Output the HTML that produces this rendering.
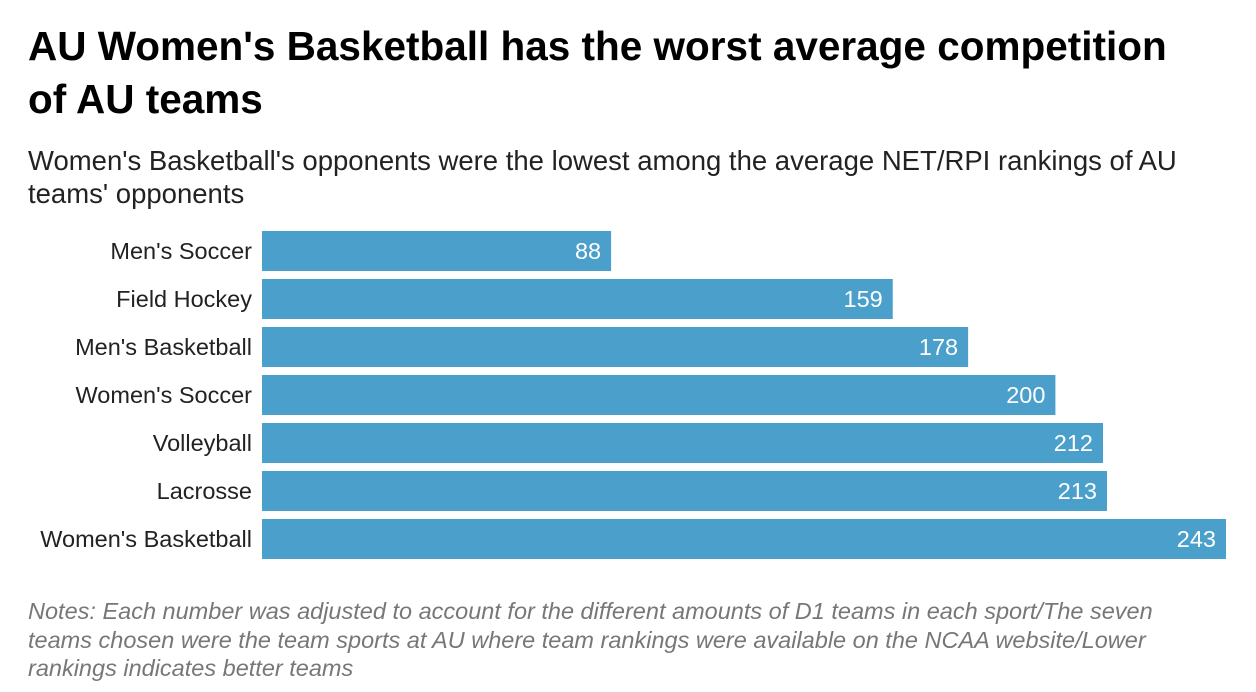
<!DOCTYPE html>
<html><head><meta charset="utf-8">
<style>
body{margin:0;width:1256px;height:692px;background:#fff;font-family:"Liberation Sans",sans-serif;overflow:hidden;position:relative}
#title{position:absolute;left:28px;top:20px;width:1152px;font-size:40.5px;font-weight:bold;line-height:53px;color:#000;letter-spacing:0px}
#sub{position:absolute;left:28px;top:144px;width:1180px;font-size:27.5px;line-height:33px;color:#222}
#notes{position:absolute;left:28px;top:597px;width:1180px;font-size:23.5px;line-height:28.5px;color:#777;font-style:italic}
</style></head><body>
<div id="title">AU Women's Basketball has the worst average competition of AU teams</div>
<div id="sub">Women's Basketball's opponents were the lowest among the average NET/RPI rankings of AU teams' opponents</div>
<svg id="chart" width="1256" height="692" style="position:absolute;left:0;top:0"></svg>
<div id="notes">Notes: Each number was adjusted to account for the different amounts of D1 teams in each sport/The seven teams chosen were the team sports at AU where team rankings were available on the NCAA website/Lower rankings indicates better teams</div>
<script>
const categories=["Men's Soccer","Field Hockey","Men's Basketball","Women's Soccer","Volleyball","Lacrosse","Women's Basketball"];
const values=[88,159,178,200,212,213,243];
const maxVal=243;
const svg=document.getElementById('chart');
const NS='http://www.w3.org/2000/svg';
const x0=262,x1=1226,yTop=231,step=48,bh=40;
const xs=v=>x0+(v/maxVal)*(x1-x0);
const ys=i=>yTop+i*step;
categories.forEach((c,i)=>{
  const r=document.createElementNS(NS,'rect');
  r.setAttribute('x',x0);r.setAttribute('y',ys(i));
  r.setAttribute('width',xs(values[i])-x0);r.setAttribute('height',bh);
  r.setAttribute('fill','#4a9fcb');
  
  
  svg.appendChild(r);
  const t=document.createElementNS(NS,'text');
  t.setAttribute('x',252);t.setAttribute('y',ys(i)+bh/2+8);
  t.setAttribute('text-anchor','end');t.setAttribute('font-size','23.5');t.setAttribute('fill','#222');
  t.setAttribute('font-family','Liberation Sans, sans-serif');
  t.textContent=c;
  
  
  svg.appendChild(t);
  const v=document.createElementNS(NS,'text');
  v.setAttribute('x',xs(values[i])-10);v.setAttribute('y',ys(i)+bh/2+8);
  v.setAttribute('text-anchor','end');v.setAttribute('font-size','23.5');v.setAttribute('fill','#fff');
  v.setAttribute('font-family','Liberation Sans, sans-serif');
  v.textContent=values[i];
  
  
  svg.appendChild(v);
});
</script>
</body></html>
